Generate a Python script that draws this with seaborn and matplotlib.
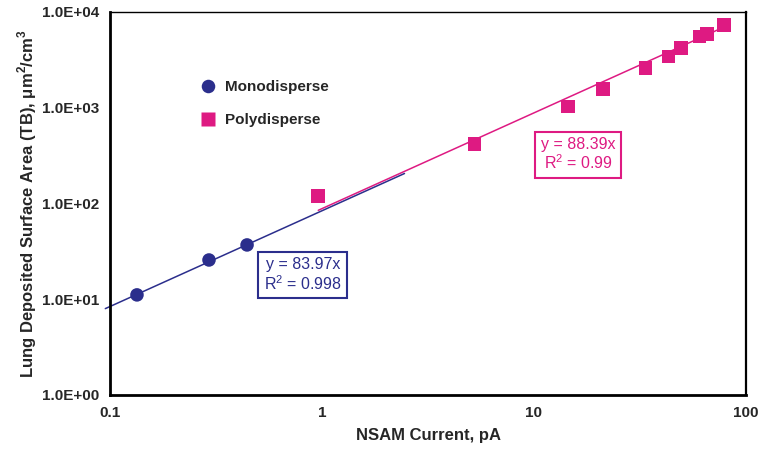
import matplotlib

matplotlib.use("Agg")
import matplotlib.pyplot as plt
import numpy as np
import pandas as pd
import seaborn as sns

# Data
mono_current = [0.134, 0.293, 0.443]
mono_area = [11.1, 25.7, 36.9]

poly_current = [0.957, 5.23, 14.5, 21.2, 33.6, 43.0, 49.5, 60.3, 65.3, 78.8]
poly_area = [120, 418, 1026, 1560, 2600, 3410, 4210, 5520, 5890, 7320]

# Trendlines (through origin) and the range they were drawn over
mono_slope, mono_r2 = 83.97, "0.998"
poly_slope, poly_r2 = 88.39, "0.99"
mono_fit_range = [0.095, 2.45]
poly_fit_range = [0.96, 80.0]

x_ticks = [0.1, 1, 10, 100]
x_ticklabels = ["0.1", "1", "10", "100"]
y_ticks = [1, 10, 100, 1000, 10000]
y_ticklabels = ["1.0E+00", "1.0E+01", "1.0E+02", "1.0E+03", "1.0E+04"]

NAVY = "#2B2E8C"
MAGENTA = "#DE1A82"

sns.set_theme(style="white")
plt.rcParams["font.family"] = ["Liberation Sans", "DejaVu Sans"]
plt.rcParams["mathtext.fontset"] = "custom"
plt.rcParams["mathtext.rm"] = "Liberation Sans"
plt.rcParams["mathtext.bf"] = "Liberation Sans:bold"

fig = plt.figure(figsize=(7.63, 4.54), dpi=100)
ax = fig.add_axes([0.1442, 0.130, 0.8335, 0.8436])

df = pd.concat(
    [
        pd.DataFrame({"current": mono_current, "area": mono_area, "type": "Monodisperse"}),
        pd.DataFrame({"current": poly_current, "area": poly_area, "type": "Polydisperse"}),
    ]
)

# fit lines
mono_fx = np.array(mono_fit_range)
poly_fx = np.array(poly_fit_range)
sns.lineplot(x=poly_fx, y=poly_slope * poly_fx, ax=ax, color=MAGENTA, lw=1.1, zorder=2)
sns.lineplot(x=mono_fx, y=mono_slope * mono_fx, ax=ax, color=NAVY, lw=1.1, zorder=2)
for ln in ax.get_lines():
    ln.set_clip_on(False)

sns.scatterplot(
    data=df, x="current", y="area", hue="type", style="type",
    palette={"Monodisperse": NAVY, "Polydisperse": MAGENTA},
    markers={"Monodisperse": "o", "Polydisperse": "s"},
    s=95, edgecolor="none", ax=ax, zorder=3, legend=True,
)

ax.set_xscale("log")
ax.set_yscale("log")
ax.set_xlim(0.1, 100)
ax.set_ylim(1, 10000)
ax.set_xticks(x_ticks)
ax.set_xticklabels(x_ticklabels)
ax.set_yticks(y_ticks)
ax.set_yticklabels(y_ticklabels)
ax.minorticks_off()
ax.tick_params(axis="x", direction="in", length=5, width=1.2, pad=8, labelsize=11)
ax.tick_params(axis="y", direction="out", length=5, width=1.2, pad=3, labelsize=11)
for lab in ax.get_xticklabels() + ax.get_yticklabels():
    lab.set_fontweight("bold")

for sp in ax.spines.values():
    sp.set_visible(True)
    sp.set_color("black")
    sp.set_linewidth(1.0)
ax.spines["left"].set_linewidth(2.0)
ax.spines["bottom"].set_linewidth(2.0)
ax.spines["right"].set_linewidth(1.6)

ax.set_xlabel("NSAM Current, pA", fontsize=12, fontweight="bold", labelpad=6)
ax.set_ylabel(r"Lung Deposited Surface Area (TB), μm$^\mathbf{2}$/cm$^\mathbf{3}$",
              fontsize=12, fontweight="bold", labelpad=2)

leg = ax.legend(loc="upper left", bbox_to_anchor=(0.109, 0.858), frameon=False,
                handletextpad=0.1, labelspacing=1.25, fontsize=11, markerscale=1.0)
for t in leg.get_texts():
    t.set_fontweight("bold")

ax.text(0.303, 0.313, f"y = {mono_slope:.2f}x\nR$^2$ = {mono_r2}",
        transform=ax.transAxes, ha="center", va="center", color=NAVY, fontsize=11.5,
        linespacing=1.1,
        bbox=dict(boxstyle="square,pad=0.35", fc="white", ec=NAVY, lw=1.5))
ax.text(0.736, 0.627, f"y = {poly_slope:.2f}x\nR$^2$ = {poly_r2}",
        transform=ax.transAxes, ha="center", va="center", color=MAGENTA, fontsize=11.5,
        linespacing=1.1,
        bbox=dict(boxstyle="square,pad=0.35", fc="white", ec=MAGENTA, lw=1.5))

fig.savefig("out.png", dpi=100)
plt.close(fig)
